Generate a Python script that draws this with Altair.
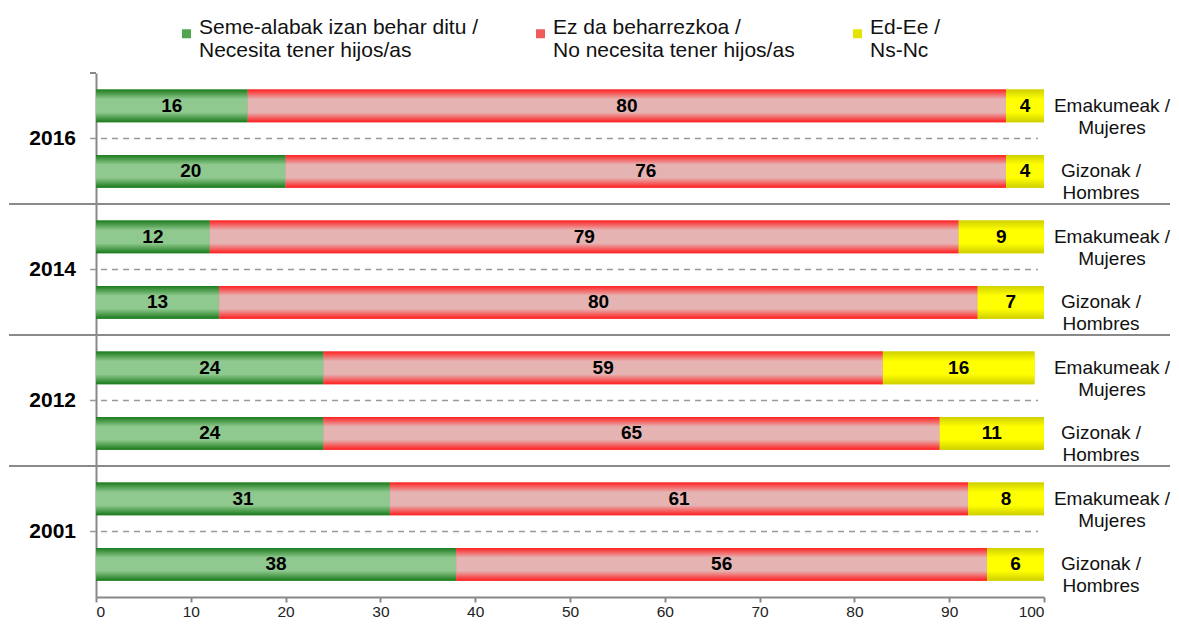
import altair as alt
import pandas as pd

years = ["2016", "2014", "2012", "2001"]
sex_keys = ["E", "G"]
sex_labels = ["Emakumeak /|Mujeres", "Gizonak /|Hombres"]
categories = [
    "Seme-alabak izan behar ditu /|Necesita tener hijos/as",
    "Ez da beharrezkoa /|No necesita tener hijos/as",
    "Ed-Ee /|Ns-Nc",
]
need = [16, 20, 12, 13, 24, 24, 31, 38]
no_need = [80, 76, 79, 80, 59, 65, 61, 56]
dk = [4, 4, 9, 7, 16, 11, 8, 6]

FONT = "Liberation Sans"
W, H = 948, 524
HALF = H / 8 / 2

rows, row_year, row_sex, row_label = [], [], [], []
for y in years:
    for s, lab in zip(sex_keys, sex_labels):
        rows.append(f"{y}-{s}")
        row_year.append(y)
        row_sex.append(s)
        row_label.append(lab)

rows_df = pd.DataFrame({"row": rows, "year": row_year, "sex": row_sex, "sexlabel": row_label})

series = [need, no_need, dk]
recs = []
for ci, (cat, vals) in enumerate(zip(categories, series)):
    for r, v in zip(rows, vals):
        recs.append({"row": r, "category": cat, "order": ci, "value": v})
long_df = pd.DataFrame(recs)


def grad(edge, mid):
    return {
        "gradient": "linear", "x1": 0, "y1": 0, "x2": 0, "y2": 1,
        "stops": [
            {"offset": 0, "color": edge},
            {"offset": 0.3, "color": mid},
            {"offset": 0.7, "color": mid},
            {"offset": 1, "color": edge},
        ],
    }


grads = [grad("#1b7a1b", "#8fc98f"), grad("#ff1f1f", "#e6b3b3"), grad("#cfcf00", "#ffff00")]
legend_colors = ["#4fa64f", "#f05a5a", "#e4e400"]

y_enc = alt.Y(
    "row:N", sort=rows,
    scale=alt.Scale(paddingInner=0.5, paddingOuter=0.25),
    axis=alt.Axis(labels=False, ticks=False, title=None, domainColor="#888", domainWidth=2),
)
x_scale = alt.Scale(domain=[0, 100], nice=False)
x_axis = alt.Axis(
    values=list(range(0, 101, 10)), grid=False, title=None,
    domainColor="#888", domainWidth=2, tickColor="#888", tickWidth=2, tickSize=5,
    labelFont=FONT, labelFontSize=15.5, labelColor="#222", labelPadding=2,
)

stacked = alt.Chart(long_df).transform_stack(
    stack="value", groupby=["row"], as_=["x0", "x1"], sort=[alt.SortField("order")]
)

legend_layer = stacked.mark_bar().encode(
    x=alt.X("x0:Q", scale=x_scale, axis=x_axis),
    x2="x1:Q",
    y=y_enc,
    color=alt.Color(
        "category:N",
        scale=alt.Scale(domain=categories, range=legend_colors),
        legend=alt.Legend(
            title=None, orient="none", direction="horizontal",
            legendX=80, legendY=-50,
            symbolType="square", symbolSize=81, symbolStrokeWidth=0,
            labelFont=FONT, labelFontSize=21, labelColor="#111",
            labelLimit=500, columnPadding=52, labelOffset=2,
            labelBaseline="alphabetic",
            labelExpr="split(datum.label, '|')",
        ),
    ),
)

grad_layers = []
for i, g in enumerate(grads):
    grad_layers.append(
        stacked.transform_filter(alt.datum.order == i).mark_bar(color=g).encode(
            x=alt.X("x0:Q", scale=x_scale, axis=x_axis), x2="x1:Q", y=y_enc
        )
    )

labels = stacked.transform_calculate(mid="(datum.x0 + datum.x1) / 2").mark_text(
    font=FONT, fontSize=19, fontWeight="bold", color="#000"
).encode(x=alt.X("mid:Q", scale=x_scale, axis=x_axis), y=y_enc, text="value:Q")

rbase = alt.Chart(rows_df)

dashed = rbase.transform_filter(alt.datum.sex == "G").mark_rule(
    yOffset=-HALF, color="#999", strokeWidth=1.5, strokeDash=[6, 5]
).encode(y=y_enc, x=alt.value(-6), x2=alt.value(942))

top_tick = rbase.transform_filter(alt.datum.row == rows[0]).mark_rule(
    yOffset=-HALF, color="#888", strokeWidth=2
).encode(y=y_enc, x=alt.value(-6), x2=alt.value(0))

separators = rbase.transform_filter(
    (alt.datum.sex == "E") & (alt.datum.year != "2016")
).mark_rule(yOffset=-HALF, color="#8a8a8a", strokeWidth=2).encode(
    y=y_enc, x=alt.value(-87), x2=alt.value(1074)
)

year_text = rbase.transform_filter(alt.datum.sex == "E").mark_text(
    yOffset=HALF, align="right", baseline="middle", font=FONT, fontSize=21,
    fontWeight="bold", color="#000"
).encode(y=y_enc, x=alt.value(-20), text="year:N")

right_e = rbase.transform_filter(alt.datum.sex == "E").mark_text(
    lineBreak="|", align="center", baseline="middle", font=FONT, fontSize=19,
    lineHeight=22, color="#111"
).encode(y=y_enc, x=alt.value(1016), text="sexlabel:N")

right_g = rbase.transform_filter(alt.datum.sex == "G").mark_text(
    lineBreak="|", align="center", baseline="middle", font=FONT, fontSize=19,
    lineHeight=22, color="#111"
).encode(y=y_enc, x=alt.value(1005), text="sexlabel:N")

chart = alt.layer(
    separators, dashed, top_tick, legend_layer, *grad_layers, labels, year_text, right_e, right_g
).properties(
    width=W, height=H, padding={"left": 0, "top": 15, "right": 0, "bottom": 0}
).configure_view(stroke=None)

chart.save("out.html", embed_options={"renderer": "svg", "actions": False})
